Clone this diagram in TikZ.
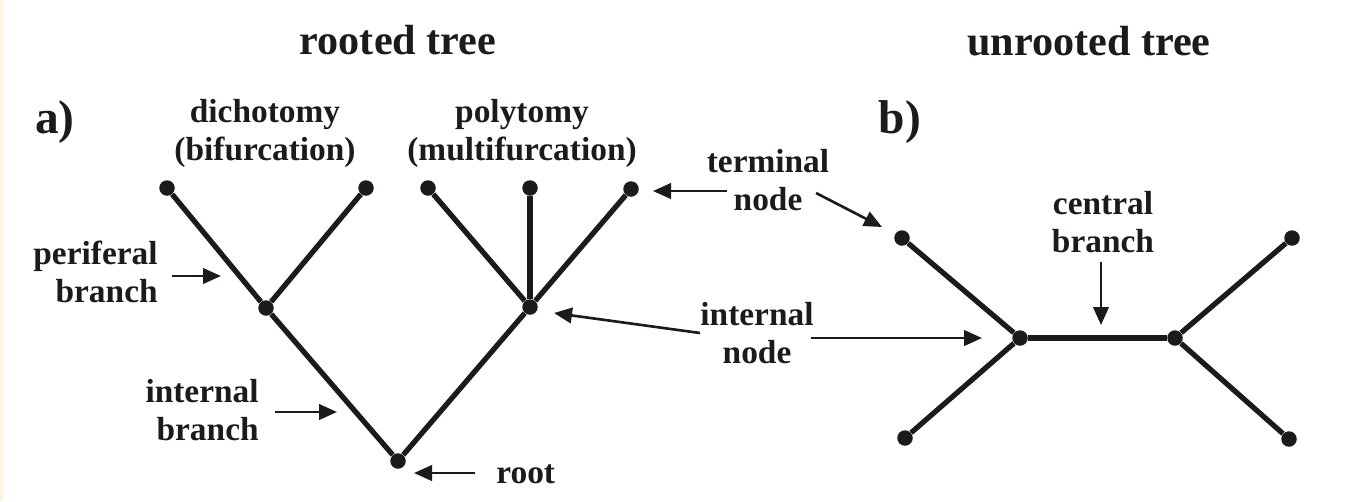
\documentclass[tikz,border=0pt]{standalone}
\usepackage{fontspec}
\setmainfont{Liberation Serif}
\usetikzlibrary{arrows.meta, positioning}

\definecolor{ink}{RGB}{30,26,26}
\definecolor{margin}{RGB}{255,244,226}

\begin{document}
\begin{tikzpicture}[x=0.2mm, y=-0.2mm, >={Triangle[length=3.6mm, width=3.1mm]}, color=ink]
  \tikzstyle{vtx}=[circle, fill=ink, inner sep=0pt, minimum size=3.1mm]
  \tikzstyle{branch}=[line width=3pt]
  \tikzstyle{pointer}=[->, line width=1.5pt]
  \tikzstyle{lbl}=[inner sep=0pt, align=center, font=\fontsize{19}{21.6}\selectfont\bfseries]
  \tikzstyle{title}=[inner sep=0pt, font=\fontsize{24}{28}\selectfont\bfseries]
  \tikzstyle{panel}=[inner sep=0pt, font=\fontsize{27}{30}\selectfont\bfseries]

  \useasboundingbox (0,0) rectangle (1359,501);
  \fill[margin] (0,0) rectangle (3,501);

  % Titles
  \node[title, anchor=base] (rooted) at (398,54) {rooted tree};
  \node[title, anchor=base] (unrooted) at (1089,55) {unrooted tree};
  \node[panel, anchor=base] (pa) at (55,133) {a)};
  \node[panel, anchor=base] (pb) at (900,133) {b)};

  % Rooted tree
  \node[vtx] (l1) at (167,188) {};
  \node[vtx] (l2) at (366,188) {};
  \node[vtx] (l3) at (428,188) {};
  \node[vtx] (l4) at (530,188) {};
  \node[vtx] (l5) at (631,189) {};
  \node[vtx] (dich) at (266,308) {};
  \node[vtx] (poly) at (530,307) {};
  \node[vtx] (root) at (398,461) {};

  \draw[branch] (l1) -- (dich) -- (l2);
  \draw[branch] (l3) -- (poly) -- (l5);
  \draw[branch] (l4) -- (poly);
  \draw[branch] (dich) -- (root) -- (poly);

  % Unrooted tree
  \node[vtx] (tl) at (902,238) {};
  \node[vtx] (tr) at (1292,238) {};
  \node[vtx] (bl) at (905,438) {};
  \node[vtx] (br) at (1289,439) {};
  \node[vtx] (ul) at (1020,338) {};
  \node[vtx] (ur) at (1175,338) {};

  \draw[branch] (tl) -- (ul) -- (bl);
  \draw[branch] (tr) -- (ur) -- (br);
  \draw[branch] (ul) -- (ur);

  % Labels
  \node[lbl] (dichlbl) at (265,133) {dichotomy\\(bifurcation)};
  \node[lbl] (polylbl) at (522,133) {polytomy\\(multifurcation)};
  \node[lbl, align=right, anchor=east] (perlbl) at (158,272) {periferal\\branch};
  \node[lbl, align=right, anchor=east] (intlbl) at (259,410) {internal\\branch};
  \node[lbl, anchor=base west] (rootlbl) at (496,483) {root};
  \node[lbl] (termlbl) at (768,180) {terminal\\node};
  \node[lbl] (nodelbl) at (757,333) {internal\\node};
  \node[lbl] (centlbl) at (1103,222) {central\\branch};

  % Pointers
  \coordinate (perA) at (172,276);  \coordinate (perB) at (221,276);
  \coordinate (intA) at (275,412);  \coordinate (intB) at (337,412);
  \coordinate (rootA) at (475,473); \coordinate (rootB) at (414,473);
  \coordinate (termA) at (727,191); \coordinate (termB) at (653,191);
  \coordinate (termC) at (816,193); \coordinate (termD) at (882,227);
  \coordinate (nodeA) at (700,333); \coordinate (nodeB) at (554,313);
  \coordinate (nodeC) at (811,338); \coordinate (nodeD) at (982,338);
  \coordinate (centA) at (1101,262); \coordinate (centB) at (1101,325);

  \draw[pointer] (perA) -- (perB);
  \draw[pointer] (intA) -- (intB);
  \draw[pointer] (rootA) -- (rootB);
  \draw[pointer] (termA) -- (termB);
  \draw[pointer] (termC) -- (termD);
  \draw[pointer] (nodeA) -- (nodeB);
  \draw[pointer] (nodeC) -- (nodeD);
  \draw[pointer] (centA) -- (centB);
\end{tikzpicture}
\end{document}
